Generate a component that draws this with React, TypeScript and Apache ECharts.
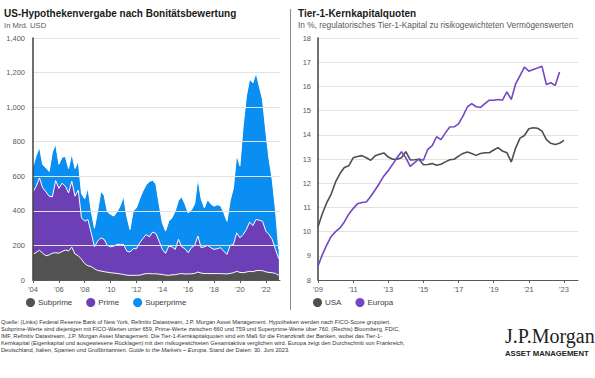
import React, { useEffect, useRef } from 'react';
import * as echarts from 'echarts';

// Quarterly, 2004 Q1 – 2023 Q1 (bn USD)
const mortgageStartYear = 2004;
const subprime = [148, 160, 172, 155, 140, 145, 155, 158, 155, 165, 173, 168, 190, 150, 140, 120, 95, 82, 78, 65, 55, 52, 48, 45, 42, 40, 38, 35, 32, 28, 27, 27, 27, 28, 33, 37, 37, 36, 36, 34, 32, 28, 27, 30, 31, 35, 37, 35, 35, 36, 38, 46, 40, 37, 38, 37, 37, 37, 37, 36, 35, 38, 42, 50, 44, 42, 46, 50, 48, 54, 55, 54, 47, 44, 42, 38, 27];
const prime = [362, 382, 418, 378, 370, 340, 326, 417, 375, 395, 369, 336, 381, 335, 380, 240, 245, 268, 195, 127, 170, 192, 187, 155, 150, 156, 168, 171, 174, 139, 135, 154, 154, 187, 207, 226, 213, 241, 233, 191, 145, 126, 169, 162, 146, 200, 155, 146, 123, 151, 162, 208, 147, 155, 162, 150, 140, 144, 150, 131, 113, 162, 164, 223, 200, 221, 246, 285, 267, 296, 291, 286, 236, 219, 193, 139, 96];
const superprime = [147, 178, 179, 134, 140, 143, 259, 212, 140, 150, 173, 141, 160, 160, 170, 140, 130, 183, 127, 108, 175, 269, 255, 195, 188, 174, 189, 224, 279, 202, 130, 219, 236, 255, 275, 287, 320, 300, 286, 215, 154, 129, 144, 168, 223, 225, 289, 259, 230, 218, 240, 336, 283, 225, 265, 253, 250, 254, 243, 223, 192, 260, 327, 452, 416, 627, 770, 828, 825, 847, 774, 703, 577, 437, 345, 228, 57];
const mortgageYearTicks = [2004, 2006, 2008, 2010, 2012, 2014, 2016, 2018, 2020, 2022];

// Quarterly, from 2009 Q1 (%)
const capitalStartYear = 2009;
const usa = [10.2, 10.75, 11.2, 11.55, 12.05, 12.4, 12.65, 12.72, 13.05, 13.1, 13.14, 13.05, 12.95, 13.13, 13.2, 13.25, 13.08, 12.99, 12.99, 13.05, 13.3, 12.96, 12.97, 12.99, 12.76, 12.77, 12.81, 12.74, 12.78, 12.88, 12.97, 12.99, 13.12, 13.23, 13.29, 13.23, 13.15, 13.23, 13.26, 13.26, 13.37, 13.47, 13.33, 13.26, 12.88, 13.45, 13.86, 13.97, 14.25, 14.29, 14.27, 14.15, 13.8, 13.65, 13.6, 13.65, 13.77];
const europa = [8.58, 9.05, 9.45, 9.8, 10.0, 10.15, 10.4, 10.72, 10.95, 11.15, 11.2, 11.22, 11.45, 11.72, 12.0, 12.3, 12.52, 12.78, 13.05, 13.3, 13.05, 12.7, 12.85, 13.0, 12.95, 13.4, 13.55, 13.92, 13.8, 14.08, 14.32, 14.33, 14.45, 14.77, 15.15, 15.29, 15.16, 15.13, 15.29, 15.43, 15.43, 15.46, 15.43, 15.77, 15.46, 16.1, 16.45, 16.8, 16.63, 16.7, 16.76, 16.83, 16.08, 16.15, 16.04, 16.59];
const capitalYearTicks = [2009, 2011, 2013, 2015, 2017, 2019, 2021, 2023];

const FONT = '"Liberation Sans", Arial, Helvetica, sans-serif';
const AXIS_TEXT = '#595959';
const C_SUB = '#525252';
const C_PRIME = '#6c3fb6';
const C_SUPER = '#0a8ef2';

const footnoteLines = [
  'Quelle: (Links) Federal Reserve Bank of New York, Refinitiv Datastream, J.P. Morgan Asset Management. Hypotheken werden nach FICO-Score gruppiert.',
  'Subprime-Werte sind diejenigen mit FICO-Werten unter 659, Prime-Werte zwischen 660 und 759 und Superprime-Werte über 760. (Rechts) Bloomberg, FDIC,',
  'IMF, Refinitiv Datastream, J.P. Morgan Asset Management. Die Tier-1-Kernkapitalquoten sind ein Maß für die Finanzkraft der Banken, wobei das Tier-1-',
  'Kernkapital (Eigenkapital und ausgewiesene Rücklagen) mit den risikogewichteten Gesamtaktiva verglichen wird. Europa zeigt den Durchschnitt von Frankreich,',
];

function toPairs(start: number, arr: number[]) {
  return arr.map((v, i) => [start + i / 4, v]);
}

function yearLabel(v: number) {
  const r = Math.round(v);
  return "'" + String(r).slice(2);
}

export default function App() {
  const ref = useRef<HTMLDivElement>(null);

  useEffect(() => {
    const chart = echarts.init(ref.current!, null, { renderer: 'svg' });

    // cumulative tops for the stacked areas
    const subTop = subprime.slice();
    const primeTop = subprime.map((v, i) => v + prime[i]);
    const superTop = primeTop.map((v, i) => v + superprime[i]);

    const areaSeries = (name: string, data: number[], color: string, z: number) => ({
      name,
      type: 'line',
      xAxisIndex: 0,
      yAxisIndex: 0,
      symbol: 'none',
      z,
      data: toPairs(mortgageStartYear, data),
      itemStyle: { color },
      lineStyle: { color: '#ffffff', width: 1 },
      areaStyle: { color, opacity: 1, origin: 'start' },
    });

    const lineSeries = (name: string, data: number[], color: string) => ({
      name,
      type: 'line',
      xAxisIndex: 1,
      yAxisIndex: 1,
      symbol: 'none',
      data: toPairs(capitalStartYear, data),
      itemStyle: { color },
      lineStyle: { color, width: 1.6 },
    });

    const footText = footnoteLines.map((l) => '{n|' + l + '}').join('\n') +
      '\n{n|Deutschland, Italien, Spanien und Großbritannien. }{i|Guide to the Markets – Europa}{n|. Stand der Daten: 30. Juni 2023.}';

    chart.setOption({
      animation: false,
      backgroundColor: '#ffffff',
      textStyle: { fontFamily: FONT },
      grid: [
        { left: 33, top: 38, width: 247, height: 242 },
        { left: 318, top: 38, width: 260, height: 242 },
      ],
      xAxis: [
        {
          type: 'value',
          gridIndex: 0,
          min: 2004,
          max: 2023.1,
          interval: 2,
          splitLine: { show: false },
          axisLine: { show: true, lineStyle: { color: '#595959', width: 1 } },
          axisTick: { show: true, length: 3, customValues: mortgageYearTicks, lineStyle: { color: '#595959' } },
          axisLabel: { fontSize: 7.5, color: AXIS_TEXT, margin: 5, customValues: mortgageYearTicks, formatter: yearLabel },
          z: 5,
        },
        {
          type: 'value',
          gridIndex: 1,
          min: 2009,
          max: 2023.8,
          interval: 2,
          splitLine: { show: false },
          axisLine: { show: true, lineStyle: { color: '#595959', width: 1 } },
          axisTick: { show: true, length: 3, customValues: capitalYearTicks, lineStyle: { color: '#595959' } },
          axisLabel: { fontSize: 7.5, color: AXIS_TEXT, margin: 5, customValues: capitalYearTicks, formatter: yearLabel },
        },
      ],
      yAxis: [
        {
          type: 'value',
          gridIndex: 0,
          min: 0,
          max: 1400,
          interval: 200,
          axisLine: { show: true, lineStyle: { color: '#404040', width: 1.5 } },
          axisTick: { show: false },
          splitLine: { show: true, lineStyle: { color: '#e2e2e2', width: 1 } },
          axisLabel: {
            fontSize: 7.5,
            color: AXIS_TEXT,
            margin: 8,
            formatter: (v: number) => v.toLocaleString('en-US'),
          },
          z: 5,
        },
        {
          type: 'value',
          gridIndex: 1,
          min: 8,
          max: 18,
          interval: 1,
          axisLine: { show: true, lineStyle: { color: '#404040', width: 1.5 } },
          axisTick: { show: false },
          splitLine: { show: true, lineStyle: { color: '#e2e2e2', width: 1 } },
          axisLabel: { fontSize: 7.5, color: AXIS_TEXT, margin: 7 },
        },
      ],
      legend: [
        {
          data: ['Subprime', 'Prime', 'Superprime'],
          left: 26,
          top: 298,
          padding: 0,
          icon: 'circle',
          itemWidth: 9,
          itemHeight: 9,
          itemGap: 14,
          itemStyle: { borderWidth: 0 },
          textStyle: { fontSize: 8, color: '#404040', fontFamily: FONT, padding: [0, 0, 0, -2] },
        },
        {
          data: ['USA', 'Europa'],
          left: 313,
          top: 298,
          padding: 0,
          icon: 'circle',
          itemWidth: 9,
          itemHeight: 9,
          itemGap: 14,
          itemStyle: { borderWidth: 0 },
          textStyle: { fontSize: 8, color: '#404040', fontFamily: FONT, padding: [0, 0, 0, -2] },
        },
      ],
      series: [
        areaSeries('Superprime', superTop, C_SUPER, 2),
        areaSeries('Prime', primeTop, C_PRIME, 3),
        areaSeries('Subprime', subTop, C_SUB, 4),
        lineSeries('USA', usa, '#4f4f4f'),
        lineSeries('Europa', europa, '#7446c6'),
      ],
      graphic: [
        {
          type: 'text',
          x: 4,
          y: 8,
          style: { text: 'US-Hypothekenvergabe nach Bonitätsbewertung', font: 'bold 10px ' + FONT, fill: '#1a1a1a', textVerticalAlign: 'top' },
        },
        {
          type: 'text',
          x: 4,
          y: 21,
          style: { text: 'In Mrd. USD', font: '7.7px ' + FONT, fill: '#595959', textVerticalAlign: 'top' },
        },
        {
          type: 'text',
          x: 298,
          y: 8,
          style: { text: 'Tier-1-Kernkapitalquoten', font: 'bold 10px ' + FONT, fill: '#1a1a1a', textVerticalAlign: 'top' },
        },
        {
          type: 'text',
          x: 298,
          y: 21,
          style: { text: 'In %, regulatorisches Tier-1-Kapital zu risikogewichteten Vermögenswerten', font: '8.3px ' + FONT, fill: '#595959', textVerticalAlign: 'top' },
        },
        {
          type: 'line',
          shape: { x1: 290.5, y1: 9, x2: 290.5, y2: 310 },
          style: { stroke: '#8c8c8c', lineWidth: 1 },
        },
        {
          type: 'text',
          x: 1,
          y: 318,
          style: {
            text: footText,
            fill: '#333333',
            textVerticalAlign: 'top',
            rich: {
              n: { fontSize: 5.7, fontFamily: FONT, fill: '#333333', lineHeight: 7.2 },
              i: { fontSize: 5.7, fontFamily: FONT, fontStyle: 'italic', fill: '#333333', lineHeight: 7.2 },
            },
          },
        },
        {
          type: 'text',
          x: 505,
          y: 326,
          style: { text: 'J.P.Morgan', font: '20px "Liberation Serif", "Times New Roman", serif', fill: '#222222', textVerticalAlign: 'top' },
        },
        {
          type: 'text',
          x: 505,
          y: 349,
          style: { text: 'ASSET MANAGEMENT', font: 'bold 7.7px ' + FONT, fill: '#222222', textVerticalAlign: 'top' },
        },
      ],
    });

    return () => chart.dispose();
  }, []);

  return (
    <div
      ref={ref}
      style={{ position: 'fixed', left: 0, top: 0, width: 595, height: 378, background: '#fff' }}
    />
  );
}
